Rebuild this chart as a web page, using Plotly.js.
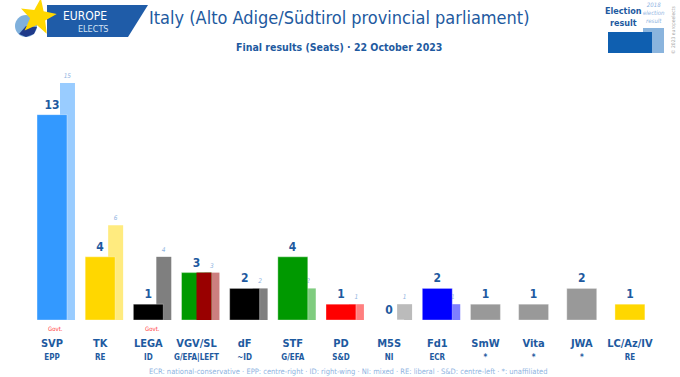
<!DOCTYPE html>
<html><head><meta charset="utf-8">
<script src="https://cdn.plot.ly/plotly-3.0.1.min.js"></script>
<style>body{margin:0;padding:0;background:#fff}#chart{width:680px;height:377px}</style>
</head><body><div id="chart"></div>
<script>
var parties = ['SVP','TK','LEGA','VGV/SL','dF','STF','PD','M5S','Fd1','SmW','Vita','JWA','LC/Az/IV'];
var groups = ['EPP','RE','ID','G/EFA|LEFT','~ID','G/EFA','S&D','NI','ECR','*','*','*','RE'];
var seats2023 = [13,4,1,3,2,4,1,0,2,1,1,2,1];
var seats2018 = [15,6,4,3,2,2,1,1,1,null,null,null,null];
var mainColors = ['#3399FF','#FFD700','#000000','#009900','#000000','#009900','#FF0000','#BBBBBB','#0000FF','#999999','#999999','#999999','#FFD700'];
var prevColors = ['rgba(51,153,255,0.5)','rgba(255,215,0,0.5)','rgba(0,0,0,0.5)','rgba(153,0,0,0.5)','rgba(0,0,0,0.5)','rgba(0,153,0,0.5)','rgba(255,0,0,0.5)','#BBBBBB','rgba(0,0,255,0.5)','#fff','#fff','#fff','#fff'];
var allianceIndex = [3]; var allianceSeats = [3]; var allianceColor = '#990000';
var govt = [true,false,true,false,false,false,false,false,false,false,false,false,false];
var footer = 'ECR: national-conservative · EPP: centre-right · ID: right-wing · NI: mixed · RE: liberal · S&D: centre-left · *: unaffiliated';

var W = 680, H = 377;
function px(x){return x/W;}
function py(y){return 1 - y/H;}
var DB = '#1e5aa0', LB = '#8fb4df';
var FONT = 'DejaVu Sans Condensed, DejaVu Sans, sans-serif';

var idx = parties.map(function(_, i){return i;});
var partyText = parties.map(function(p){return '<b>' + p + '</b>';});
var groupText = groups.map(function(g){return '<b>' + g + '</b>';});

var prevTrace = {
  type:'bar', x: idx, y: seats2018, offset: 0.166, width: 0.311,
  marker:{color: prevColors},
  text: seats2018.map(function(v){return v===null?'':'<i>'+v+'</i>';}),
  textposition:'outside', textfont:{size:6.5, color:LB, family:FONT},
  constraintext:'none', cliponaxis:false, hoverinfo:'skip'
};
var mainTrace = {
  type:'bar', x: idx, y: seats2023, offset: -0.311, width: 0.622,
  marker:{color: mainColors, line:{color:'rgba(255,255,255,0.35)', width:1}},
  text: seats2023.map(function(v){return '<b>'+v+'</b>';}),
  textposition:'outside', textfont:{size:12, color:DB, family:FONT},
  constraintext:'none', cliponaxis:false, hoverinfo:'skip'
};
var allianceTrace = {
  type:'bar', x: allianceIndex, y: allianceSeats, offset: 0, width: 0.311,
  marker:{color: allianceColor}, hoverinfo:'skip'
};
var groupAxisTrace = {
  type:'scatter', mode:'markers', x: idx, y: idx.map(function(){return 0;}), xaxis:'x2', yaxis:'y',
  marker:{opacity:0}, hoverinfo:'skip'
};

var starPts = [];
for (var k=0;k<10;k++){
  var r = (k%2===0)?19:8;
  var a = -Math.PI/2 + k*Math.PI/5 + 0.15;
  starPts.push([38 + r*Math.cos(a), 17 + r*Math.sin(a)]);
}
var starPath = 'M ' + starPts.map(function(p){return px(p[0])+','+py(p[1]);}).join(' L ') + ' Z';

var shapes = [
  {type:'path', xref:'paper', yref:'paper', path:'M '+px(47)+','+py(5)+' L '+px(148)+','+py(5)+' L '+px(128)+','+py(37)+' L '+px(47)+','+py(37)+' Z', fillcolor:'#1f5ca8', line:{width:0}},
  {type:'circle', xref:'paper', yref:'paper', x0:px(15), x1:px(37), y0:py(37), y1:py(15), fillcolor:'#7fb0dc', line:{width:0}},
  {type:'path', xref:'paper', yref:'paper', path:'M '+px(26)+','+py(26)+' L '+px(37)+','+py(27)+' L '+px(34)+','+py(34)+' L '+px(26)+','+py(37)+' L '+px(19)+','+py(34)+' Z', fillcolor:'#1f3a8a', line:{width:0}},
  {type:'path', xref:'paper', yref:'paper', path: starPath, fillcolor:'#FFD700', line:{width:0}},
  {type:'rect', xref:'paper', yref:'paper', x0:px(643), x1:px(664), y0:py(53), y1:py(28), fillcolor:'#8ab4dd', line:{width:0}},
  {type:'rect', xref:'paper', yref:'paper', x0:px(608), x1:px(652), y0:py(53), y1:py(32), fillcolor:'#0f5fb0', line:{width:0}}
];

function ann(x, y, text, font, extra){
  var a = {xref:'paper', yref:'paper', x:px(x), y:py(y), xanchor:'center', yanchor:'middle', text:text, showarrow:false, font:font};
  if (extra) for (var k in extra) a[k] = extra[k];
  return a;
}
var annotations = [
  ann(85, 16, 'EUROPE', {size:12, color:'#ffffff', family:FONT}),
  ann(93, 29, 'ELECTS', {size:9, color:'#d6e4f5', family:FONT}),
  ann(339, 18, 'Italy (Alto Adige/Südtirol provincial parliament)', {size:18, color:DB, family:FONT}),
  ann(339, 47, '<b>Final results (Seats) · 22 October 2023</b>', {size:10.5, color:DB, family:FONT}),
  ann(623, 17, '<b>Election<br>result</b>', {size:9, color:DB, family:FONT}),
  ann(654, 12, '<i>2018<br>election<br>result</i>', {size:6, color:LB, family:FONT}),
  ann(673, 30, '© 2023 europeelects', {size:5, color:'#aaaaaa', family:FONT}, {textangle:-90}),
  ann(349, 371, footer, {size:7.5, color:LB, family:FONT})
];
govt.forEach(function(g, i){
  if (g) annotations.push({xref:'x', yref:'paper', x:i+0.08, y:py(328), yanchor:'middle', text:'Govt.', showarrow:false, font:{size:6, color:'#ff4040', family:FONT}});
});

var layout = {
  width:W, height:H, margin:{l:0,r:0,t:0,b:0}, paper_bgcolor:'#fff', plot_bgcolor:'#fff',
  barmode:'overlay', showlegend:false,
  xaxis:{domain:[0,1], range:[-1.08,13.04], tickvals: idx, ticktext: partyText, showgrid:false, zeroline:false, showline:false, ticks:'', ticklabelstandoff:15, tickfont:{size:11, color:DB, family:FONT}, fixedrange:true},
  xaxis2:{overlaying:'x', anchor:'y', side:'bottom', matches:'x', range:[-1.08,13.04], tickvals: idx, ticktext: groupText, showgrid:false, zeroline:false, showline:false, ticks:'', ticklabelstandoff:31, tickfont:{size:8, color:DB, family:FONT}, fixedrange:true},
  yaxis:{domain:[py(320), py(60)], range:[0,16.46], showgrid:false, zeroline:false, showline:false, showticklabels:false, fixedrange:true},
  shapes: shapes, annotations: annotations
};
Plotly.newPlot('chart', [prevTrace, mainTrace, allianceTrace, groupAxisTrace], layout, {displayModeBar:false, staticPlot:true});
</script></body></html>
